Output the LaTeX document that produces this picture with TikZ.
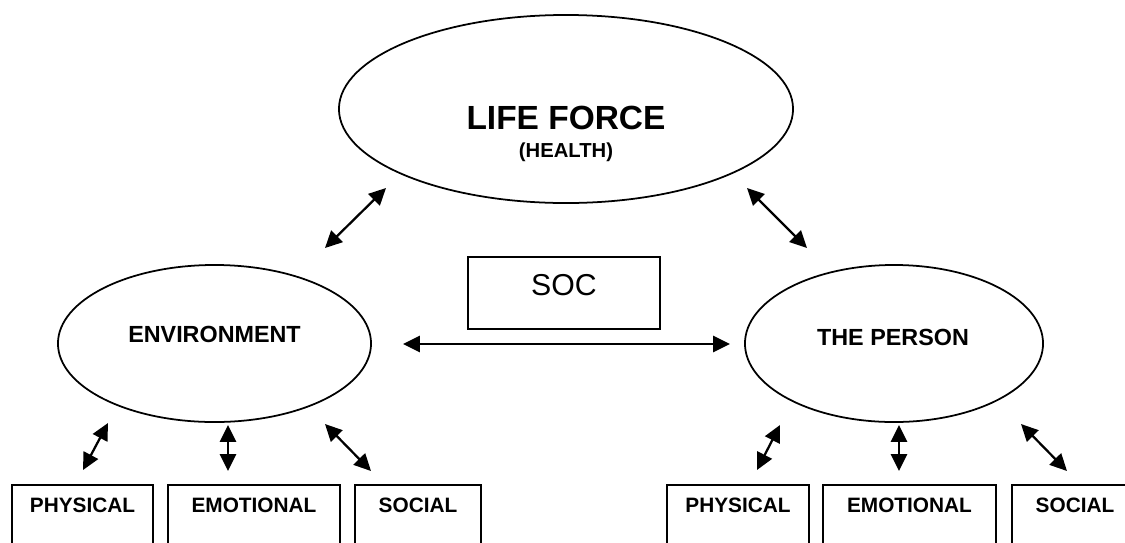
\documentclass[tikz,border=0pt]{standalone}
\usepackage{fontspec}
\setmainfont{Liberation Sans}
\usetikzlibrary{shapes.geometric, arrows.meta}

\tikzset{
  oval/.style={draw, ellipse, line width=1.25pt, inner sep=0pt},
  catbox/.style={draw, rectangle, line width=1.25pt, inner xsep=0pt, inner ysep=0pt, anchor=north,
    text height=0.7cm, text depth=1.5cm, font=\bfseries\fontsize{14.8}{17}\selectfont},
  link/.style={<->, line width=1.6pt},
}

\begin{document}
\begin{tikzpicture}[x=0.025cm, y=-0.025cm, >={Triangle[length=12pt,width=11.5pt]}]
    \useasboundingbox (0,0) rectangle (1125,542);
    \clip (0,0) rectangle (1125,542);
    % Ovals
    \node[oval, minimum width=11.35cm, minimum height=4.7cm] (life) at (566,109) {};
    \node[oval, minimum width=7.825cm, minimum height=3.925cm] (env) at (214.5,343.5) {};
    \node[oval, minimum width=7.45cm, minimum height=3.925cm] (person) at (894,343.5) {};
    \node[anchor=base, font=\bfseries\fontsize{23.8}{28}\selectfont] (lifetxt) at (566,129) {LIFE FORCE};
    \node[anchor=base, font=\bfseries\fontsize{14.4}{17}\selectfont] (healthtxt) at (566,157) {(HEALTH)};
    \node[anchor=base, font=\bfseries\fontsize{16.6}{20}\selectfont] (envtxt) at (214.5,342) {ENVIRONMENT};
    \node[anchor=base, font=\bfseries\fontsize{16.6}{20}\selectfont] (persontxt) at (893,345) {THE PERSON};
    % SOC box
    \node[draw, line width=1.25pt, inner xsep=0pt, inner ysep=0pt, anchor=north, minimum width=4.8cm,
      text height=0.975cm, text depth=0.825cm, font=\fontsize{21.5}{25}\selectfont] (soc) at (564,256) {SOC};
    % Bottom boxes
    \node[catbox, minimum width=3.525cm] (physL) at (82.5,484) {PHYSICAL};
    \node[catbox, minimum width=4.3cm] (emoL) at (254,484) {EMOTIONAL};
    \node[catbox, minimum width=3.15cm] (socL) at (418,484) {SOCIAL};
    \node[catbox, minimum width=3.55cm] (physR) at (738,484) {PHYSICAL};
    \node[catbox, minimum width=4.325cm] (emoR) at (909.5,484) {EMOTIONAL};
    \node[catbox, minimum width=3.15cm] (socR) at (1075,484) {SOCIAL};
    % Arrow ends
    \coordinate (lifeSW) at (386,188);
    \coordinate (envNE) at (325,248);
    \coordinate (lifeSE) at (747,188);
    \coordinate (personNW) at (807,248);
    \coordinate (envE) at (403,344);
    \coordinate (personW) at (730,344);
    \coordinate (envS1) at (108,423);
    \coordinate (envS2) at (228,425);
    \coordinate (envS3) at (325,424);
    \coordinate (physLN) at (83,470);
    \coordinate (emoLN) at (228,471);
    \coordinate (socLN) at (371,471);
    \coordinate (personS1) at (780,425);
    \coordinate (personS2) at (899,425);
    \coordinate (personS3) at (1021,424);
    \coordinate (physRN) at (757,470);
    \coordinate (emoRN) at (899,471);
    \coordinate (socRN) at (1067,471);
    % Arrows
    \draw[link] (envNE) -- (lifeSW);
    \draw[link] (lifeSE) -- (personNW);
    \draw[link] (envE) -- (personW);
    \draw[link] (physLN) -- (envS1);
    \draw[link] (envS2) -- (emoLN);
    \draw[link] (envS3) -- (socLN);
    \draw[link] (physRN) -- (personS1);
    \draw[link] (personS2) -- (emoRN);
    \draw[link] (personS3) -- (socRN);
\end{tikzpicture}
\end{document}
